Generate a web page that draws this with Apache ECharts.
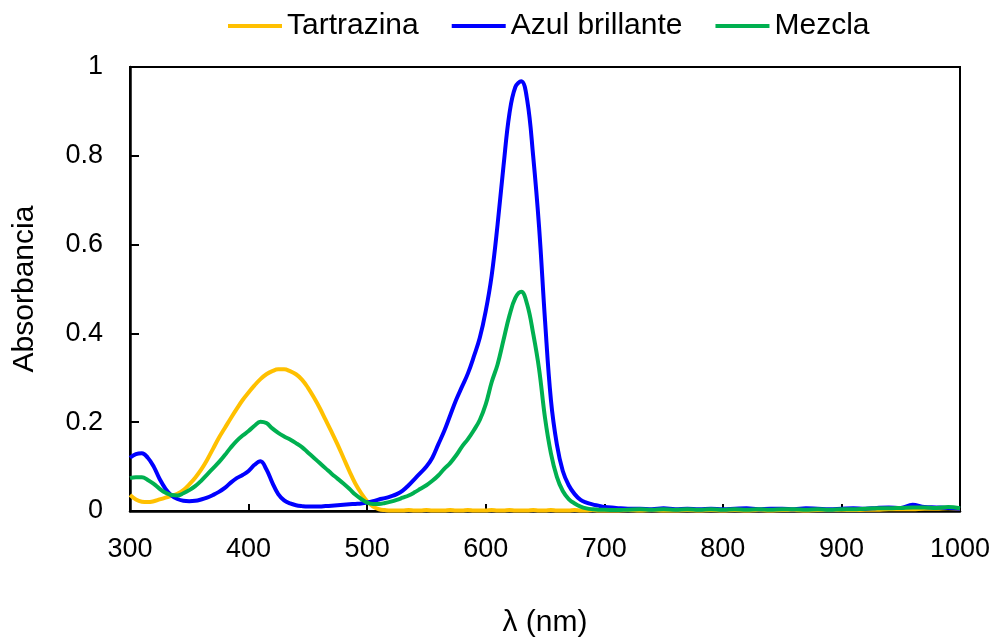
<!DOCTYPE html>
<html>
<head>
<meta charset="utf-8">
<script src="https://cdn.jsdelivr.net/npm/echarts@6/dist/echarts.min.js"></script>
<style>
html, body { margin: 0; padding: 0; background: #fff; }
#chart { width: 996px; height: 637px; }
</style>
</head>
<body>
<div id="chart"></div>
<script>
// wavelengths (nm)
var wavelengths = [
    300,305,310,315,320,325,330,335,340,345,350,355,360,365,370,375,380,385,390,395,
    400,405,410,415,420,425,430,435,440,445,450,455,460,465,470,475,480,485,490,495,
    500,505,510,515,520,525,530,535,540,545,550,555,560,565,570,575,580,585,590,595,
    600,605,610,615,620,625,630,635,640,645,650,655,660,665,670,675,680,685,690,695,
    700,
    710,720,730,740,750,760,770,780,790,800,810,820,830,840,850,860,870,880,890,900,
    910,920,930,940,950,960,970,980,990,1000
];

var tartrazina = [
    0.036,0.026,0.021,0.020,0.022,0.026,0.030,0.034,0.039,0.047,0.060,0.075,0.093,0.115,0.140,0.165,0.187,0.209,0.230,0.250,
    0.267,0.283,0.297,0.308,0.315,0.319,0.319,0.315,0.308,0.296,0.278,0.256,0.232,0.205,0.178,0.150,0.120,0.090,0.062,0.040,
    0.022,0.010,0.004,0.002,0.001,0.001,0.001,0.002,0.001,0.001,0.002,0.001,0.001,0.001,0.002,0.001,0.001,0.002,0.001,0.001,
    0.001,0.002,0.001,0.001,0.002,0.001,0.001,0.001,0.002,0.001,0.001,0.002,0.001,0.001,0.001,0.002,0.001,0.001,0.002,0.001,
    0.001,
    0.001,0.002,0.001,0.002,0.001,0.001,0.002,0.001,0.002,0.001,0.002,0.001,0.002,0.001,0.002,0.002,0.001,0.002,0.002,0.003,
    0.002,0.003,0.003,0.004,0.004,0.004,0.005,0.005,0.006,0.005
];

var azulBrillante = [
    0.120,0.128,0.130,0.120,0.100,0.072,0.050,0.035,0.027,0.023,0.022,0.023,0.026,0.030,0.036,0.043,0.052,0.064,0.074,0.081,
    0.090,0.104,0.112,0.094,0.064,0.038,0.024,0.017,0.013,0.011,0.010,0.010,0.010,0.011,0.012,0.013,0.014,0.015,0.016,0.017,
    0.019,0.022,0.026,0.029,0.033,0.038,0.046,0.058,0.072,0.086,0.100,0.120,0.150,0.180,0.215,0.250,0.280,0.310,0.348,0.390,
    0.450,0.530,0.645,0.777,0.895,0.955,0.968,0.925,0.800,0.640,0.430,0.250,0.150,0.090,0.058,0.038,0.025,0.019,0.015,0.012,
    0.009,
    0.007,0.005,0.005,0.004,0.006,0.004,0.005,0.004,0.005,0.004,0.005,0.006,0.004,0.005,0.005,0.004,0.006,0.005,0.004,0.005,
    0.006,0.005,0.007,0.008,0.007,0.014,0.009,0.008,0.007,0.005
];

var mezcla = [
    0.074,0.076,0.076,0.070,0.061,0.050,0.041,0.036,0.035,0.040,0.047,0.056,0.068,0.082,0.096,0.110,0.126,0.143,0.158,0.170,
    0.180,0.192,0.201,0.198,0.186,0.176,0.168,0.161,0.153,0.144,0.132,0.120,0.108,0.096,0.084,0.073,0.062,0.050,0.037,0.027,
    0.019,0.016,0.016,0.018,0.021,0.025,0.030,0.035,0.042,0.050,0.058,0.068,0.080,0.095,0.108,0.125,0.145,0.162,0.182,0.205,
    0.240,0.290,0.330,0.385,0.440,0.480,0.494,0.465,0.400,0.320,0.210,0.130,0.077,0.045,0.027,0.017,0.010,0.006,0.004,0.003,
    0.003,
    0.002,0.003,0.004,0.003,0.004,0.003,0.004,0.003,0.004,0.003,0.004,0.003,0.004,0.003,0.004,0.004,0.003,0.004,0.003,0.004,
    0.004,0.005,0.006,0.006,0.007,0.008,0.008,0.007,0.009,0.006
];

var seriesNames = ['Tartrazina', 'Azul brillante', 'Mezcla'];
var seriesColors = ['#FFC000', '#0000FF', '#00B050'];

function pairs(values){
    return wavelengths.map(function(w, i){ return [w, values[i]] })
}

var font = 'Liberation Sans, Arial, sans-serif'
var myChart = echarts.init(document.getElementById('chart'))

var option = {
    animation: false,
    backgroundColor: '#fff',
    textStyle: { fontFamily: font },
    legend: {
        left: 223,
        top: 6,
        itemWidth: 54,
        itemHeight: 4,
        itemGap: 33,
        icon: 'rect',
        textStyle: { fontSize: 30, color: '#000', fontFamily: font },
        data: seriesNames
    },
    grid: {
        left: 130,
        right: 36,
        top: 67,
        bottom: 126,
        outerBoundsMode: 'none',
        containLabel: false,
        show: true,
        borderColor: '#000',
        borderWidth: 2
    },
    xAxis: {
        type: 'value',
        min: 300,
        max: 1000,
        interval: 100,
        name: 'λ (nm)',
        nameLocation: 'middle',
        nameGap: 97,
        nameTextStyle: { fontSize: 30, color: '#000', fontFamily: font },
        axisLine: { show: true, lineStyle: { color: '#000', width: 2.5 } },
        axisTick: { show: true, inside: true, length: 7, lineStyle: { color: '#000', width: 2 } },
        axisLabel: {
            fontSize: 27, color: '#000', margin: 25, fontFamily: font,
            formatter: function(v){ return String(v) }
        },
        splitLine: { show: false }
    },
    yAxis: {
        type: 'value',
        min: 0,
        max: 1,
        interval: 0.2,
        name: 'Absorbancia',
        nameLocation: 'middle',
        nameGap: 90,
        nameTextStyle: { fontSize: 30, color: '#000', fontFamily: font },
        axisLine: { show: true, lineStyle: { color: '#000', width: 2.5 } },
        axisTick: { show: true, inside: true, length: 9, lineStyle: { color: '#000', width: 2 } },
        axisLabel: { fontSize: 27, color: '#000', margin: 27, fontFamily: font },
        splitLine: { show: false }
    },
    series: [tartrazina, azulBrillante, mezcla].map(function(values, i){
        return {
            name: seriesNames[i],
            type: 'line',
            symbol: 'none',
            smooth: 0.4,
            lineStyle: { color: seriesColors[i], width: 4 },
            itemStyle: { color: seriesColors[i] },
            data: pairs(values)
        }
    })
}
myChart.setOption(option)
</script>
</body>
</html>
